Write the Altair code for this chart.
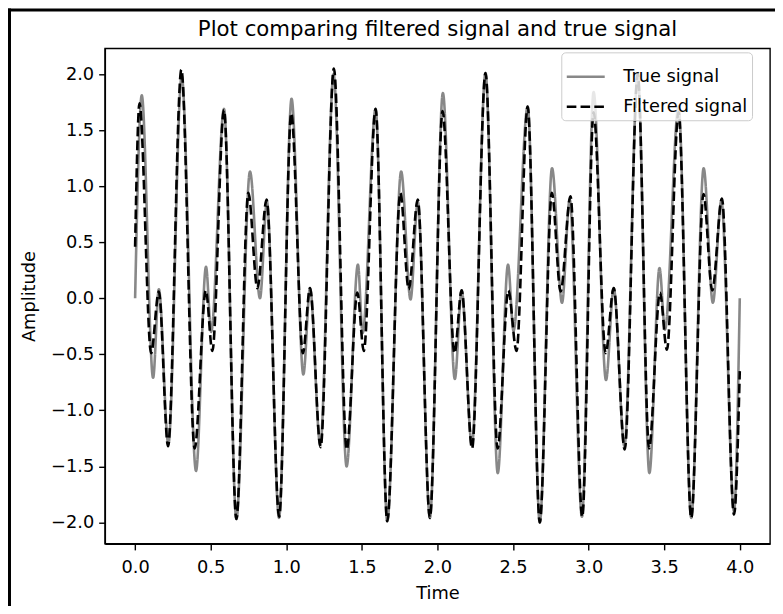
import altair as alt
import pandas as pd

# ---- data (extrema and end points) ----
t_true = [0.000, 0.044, 0.119, 0.157, 0.220, 0.308, 0.403, 0.469, 0.503, 0.588, 0.670, 0.760, 0.826, 0.872, 0.952,
          1.035, 1.113, 1.157, 1.225, 1.313, 1.399, 1.474, 1.505, 1.591, 1.668, 1.760, 1.822, 1.870, 1.950,
          2.036, 2.115, 2.160, 2.228, 2.318, 2.399, 2.467, 2.503, 2.597, 2.677, 2.758, 2.824, 2.875, 2.956,
          3.033, 3.115, 3.166, 3.237, 3.325, 3.402, 3.469, 3.505, 3.595, 3.679, 3.761, 3.822, 3.878, 3.962, 4.000]
v_true = [0.00, 1.81, -0.71, 0.08, -1.30, 1.98, -1.54, 0.28, -0.30, 1.69, -1.97, 1.13, 0.00, 0.86, -1.96,
          1.78, -0.68, 0.09, -1.31, 2.00, -1.50, 0.30, -0.31, 1.69, -1.99, 1.13, -0.01, 0.86, -1.96,
          1.83, -0.72, 0.07, -1.31, 2.01, -1.56, 0.30, -0.29, 1.71, -2.00, 1.16, -0.04, 0.88, -1.95,
          1.84, -0.73, 0.09, -1.32, 2.00, -1.56, 0.27, -0.28, 1.71, -1.96, 1.16, -0.04, 0.87, -1.90, 0.00]

t_filt = [0.000, 0.029, 0.106, 0.157, 0.218, 0.306, 0.394, 0.468, 0.511, 0.588, 0.670, 0.749, 0.809, 0.870, 0.953,
          1.033, 1.110, 1.157, 1.227, 1.315, 1.400, 1.470, 1.513, 1.591, 1.668, 1.755, 1.810, 1.870, 1.950,
          2.034, 2.113, 2.160, 2.229, 2.318, 2.398, 2.469, 2.523, 2.597, 2.677, 2.757, 2.815, 2.880, 2.958,
          3.033, 3.113, 3.166, 3.239, 3.325, 3.400, 3.472, 3.518, 3.595, 3.679, 3.760, 3.818, 3.882, 3.962, 4.000]
v_filt = [0.46, 1.74, -0.49, 0.06, -1.32, 2.04, -1.34, 0.07, -0.47, 1.68, -1.97, 0.94, 0.09, 0.88, -1.95,
          1.65, -0.49, 0.09, -1.33, 2.05, -1.35, 0.05, -0.47, 1.69, -1.99, 0.94, 0.08, 0.88, -1.96,
          1.67, -0.49, 0.07, -1.34, 2.01, -1.34, 0.07, -0.47, 1.71, -2.00, 0.94, 0.06, 0.91, -1.95,
          1.66, -0.49, 0.09, -1.35, 2.00, -1.34, 0.05, -0.46, 1.66, -1.96, 0.93, 0.07, 0.89, -1.93, -0.65]

series_names = ["True signal", "Filtered signal"]
x_ticks = [0.0, 0.5, 1.0, 1.5, 2.0, 2.5, 3.0, 3.5, 4.0]
y_ticks = [-2.0, -1.5, -1.0, -0.5, 0.0, 0.5, 1.0, 1.5, 2.0]

df = pd.concat([
    pd.DataFrame({"t": t_true, "v": v_true, "series": series_names[0]}),
    pd.DataFrame({"t": t_filt, "v": v_filt, "series": series_names[1]}),
], ignore_index=True)

FONT = "DejaVu Sans"
FS = 17.8
LW = 2.6

legend_kw = dict(
    title=None, orient="none", legendX=457, legendY=4,
    labelFont=FONT, labelFontSize=FS, labelColor="black",
    symbolType="M-1,0H1", symbolSize=1444, symbolStrokeWidth=LW,
    fillColor="rgba(255,255,255,0.8)", strokeColor="#cccccc", cornerRadius=4, padding=4,
    rowPadding=-1, labelOffset=17,
)

x_enc = alt.X("t:Q", scale=alt.Scale(domain=[-0.2, 4.2], nice=False, zero=False),
              axis=alt.Axis(values=x_ticks, format=".1f", title="Time"))
y_enc = alt.Y("v:Q", scale=alt.Scale(domain=[-2.19, 2.23], nice=False, zero=False),
              axis=alt.Axis(values=y_ticks, format=".1f", title="Amplitude"))
color_enc = alt.Color("series:N",
                      scale=alt.Scale(domain=series_names, range=["#888888", "#000000"]),
                      legend=alt.Legend(**legend_kw))
dash_enc = alt.StrokeDash("series:N",
                          scale=alt.Scale(domain=series_names, range=[[1, 0], [9.6, 4.2]]),
                          legend=alt.Legend(**legend_kw))

base = alt.Chart(df)
true_line = base.transform_filter(alt.datum.series == series_names[0]).mark_line(
    strokeWidth=LW, interpolate="monotone").encode(x=x_enc, y=y_enc, color=color_enc, strokeDash=dash_enc)
filt_line = base.transform_filter(alt.datum.series == series_names[1]).mark_line(
    strokeWidth=LW, interpolate="monotone").encode(x=x_enc, y=y_enc, color=color_enc, strokeDash=dash_enc)

frame_df = pd.DataFrame({"a": [0]})
top_border = alt.Chart(frame_df).mark_rule(color="black", strokeWidth=3, clip=False).encode(
    x=alt.value(-97), x2=alt.value(680), y=alt.value(-38.5))
left_border = alt.Chart(frame_df).mark_rule(color="black", strokeWidth=3, clip=False).encode(
    x=alt.value(-95.5), y=alt.value(-40), y2=alt.value(560))

chart = alt.layer(true_line, filt_line, top_border, left_border).properties(
    width=666, height=496,
    background="white",
    autosize=alt.AutoSizeParams(type="none"),
    padding={"left": 97, "top": 40, "right": 5, "bottom": 62},
    title=alt.Title("Plot comparing filtered signal and true signal", font=FONT, fontSize=21.3,
                    fontWeight="normal", color="black", anchor="middle", offset=0,
                    baseline="alphabetic", dy=50),
).configure_view(stroke="black", strokeWidth=1.4).configure_axis(
    grid=False, domainColor="black", domainWidth=1.4, tickColor="black", tickSize=6.2, tickWidth=1.4,
    labelFont=FONT, labelFontSize=FS, labelColor="black", labelPadding=5,
    titleFont=FONT, titleFontSize=FS, titleFontWeight="normal", titleColor="black",
).configure_axisX(titlePadding=8, labelPadding=9, labelAngle=0).configure_axisY(titlePadding=12)

chart.save("out.html", embed_options={"renderer": "svg", "actions": False})
